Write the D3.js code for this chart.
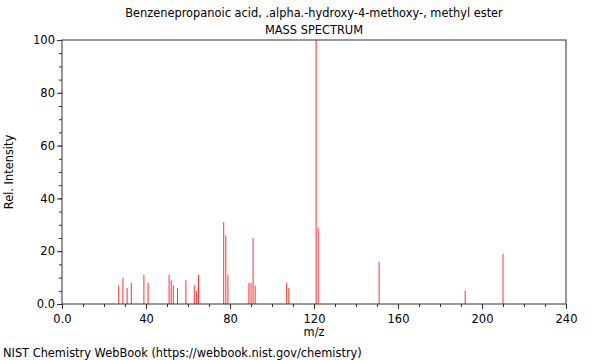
<!DOCTYPE html>
<html>
<head>
<meta charset="utf-8">
<script src="https://cdn.jsdelivr.net/npm/d3@7"></script>
<style>
	body { margin: 0; background: #fff; }
	text { font-family: "DejaVu Sans", sans-serif; fill: #000; }
</style>
</head>
<body>
<svg></svg>
<script>
// peaks
let mz = [27, 29, 31, 33, 39, 41, 51, 52, 53, 55, 59, 63, 64, 65, 77, 78, 79, 89, 90, 91, 92, 107, 108, 121, 122, 151, 192, 210];
let intensity = [7, 10, 6, 8, 11, 8, 11, 9, 7, 6, 9, 7, 5, 11, 31, 26, 11, 8, 8, 25, 7, 8, 6, 100, 29, 16, 5, 19];

let xTicks = [0, 40, 80, 120, 160, 200, 240];
let yTicks = [0, 20, 40, 60, 80, 100];
let title = 'Benzenepropanoic acid, .alpha.-hydroxy-4-methoxy-, methyl ester';

let width = 600;
let height = 360;
let plot = { left: 62, right: 566, top: 40, bottom: 304 };

let svg = d3.select('svg')
	.attr('width', width)
	.attr('height', height);

let x = d3.scaleLinear().domain([0, 240]).range([plot.left, plot.right]);
let y = d3.scaleLinear().domain([0, 100]).range([plot.bottom, plot.top]);

let peaks = mz.map((m, i) => ({ mz: m, val: intensity[i] }));

// peaks
svg.append('g')
	.selectAll('line')
	.data(peaks)
	.enter()
	.append('line')
	.attr('x1', d => x(d.mz))
	.attr('x2', d => x(d.mz))
	.attr('y1', y(0))
	.attr('y2', d => y(d.val))
	.attr('stroke', '#ff3030')
	.attr('stroke-width', 1);

// minor ticks
svg.append('g')
	.attr('transform', 'translate(0,' + plot.bottom + ')')
	.call(d3.axisBottom(x).tickValues(d3.range(0, 241, 10)).tickSize(3).tickFormat(''))
	.call(g => g.select('.domain').remove());
svg.append('g')
	.attr('transform', 'translate(' + plot.left + ',0)')
	.call(d3.axisLeft(y).tickValues(d3.range(0, 101, 5)).tickSize(3).tickFormat(''))
	.call(g => g.select('.domain').remove());

// major ticks + labels
svg.append('g')
	.attr('transform', 'translate(0,' + plot.bottom + ')')
	.call(d3.axisBottom(x).tickValues(xTicks).tickSize(5).tickPadding(6)
		.tickFormat(d => d === 0 ? '0.0' : d))
	.call(g => g.select('.domain').remove())
	.selectAll('text').style('font-size', '11.5px');
svg.append('g')
	.attr('transform', 'translate(' + plot.left + ',0)')
	.call(d3.axisLeft(y).tickValues(yTicks).tickSize(5).tickPadding(2)
		.tickFormat(d => d === 0 ? '0.0' : d))
	.call(g => g.select('.domain').remove())
	.selectAll('text').style('font-size', '11.5px');

svg.selectAll('.tick line').attr('stroke', '#333');

// frame
svg.append('rect')
	.attr('x', plot.left)
	.attr('y', plot.top)
	.attr('width', plot.right - plot.left)
	.attr('height', plot.bottom - plot.top)
	.attr('fill', 'none')
	.attr('stroke', '#333')
	.attr('stroke-width', 1);

// titles
svg.append('text')
	.attr('x', (plot.left + plot.right) / 2)
	.attr('y', 17)
	.attr('text-anchor', 'middle')
	.style('font-size', '11.4px')
	.text(title);
svg.append('text')
	.attr('x', (plot.left + plot.right) / 2)
	.attr('y', 34)
	.attr('text-anchor', 'middle')
	.style('font-size', '11.4px')
	.text('MASS SPECTRUM');

svg.append('text')
	.attr('x', (plot.left + plot.right) / 2)
	.attr('y', 336)
	.attr('text-anchor', 'middle')
	.style('font-size', '11.4px')
	.text('m/z');

svg.append('text')
	.attr('transform', 'translate(13,' + ((plot.top + plot.bottom) / 2) + ') rotate(-90)')
	.attr('text-anchor', 'middle')
	.style('font-size', '11.4px')
	.text('Rel. Intensity');

svg.append('text')
	.attr('x', 3)
	.attr('y', 357)
	.style('font-size', '11.4px')
	.text('NIST Chemistry WebBook (https://webbook.nist.gov/chemistry)');
</script>
</body>
</html>
